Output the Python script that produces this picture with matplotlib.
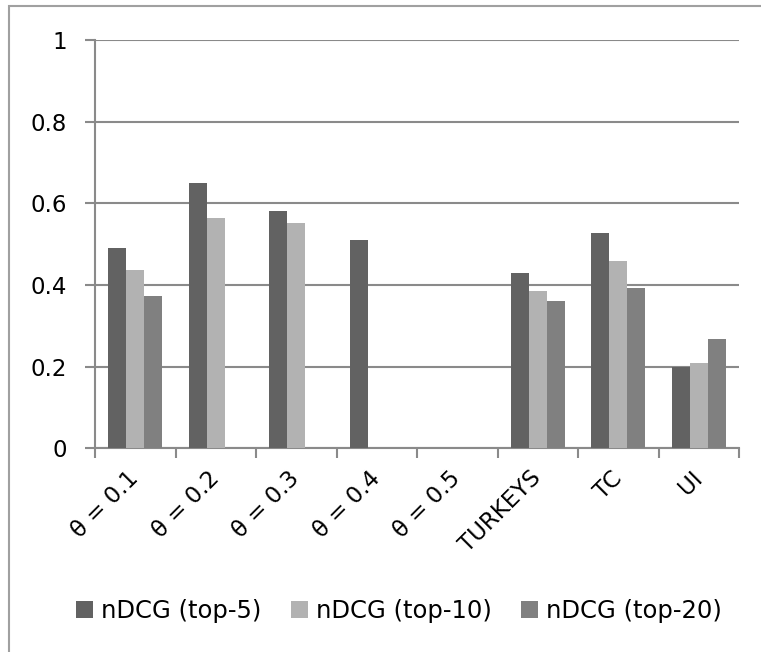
import matplotlib.pyplot as plt
import numpy as np
from matplotlib.patches import Rectangle

categories = ["θ = 0.1", "θ = 0.2", "θ = 0.3", "θ = 0.4", "θ = 0.5",
              "TURKEYS", "TC", "UI"]
series_names = ["nDCG (top-5)", "nDCG (top-10)", "nDCG (top-20)"]
top5 = [0.49, 0.65, 0.58, 0.51, None, 0.43, 0.527, 0.20]
top10 = [0.437, 0.564, 0.553, None, None, 0.386, 0.459, 0.209]
top20 = [0.372, None, None, None, None, 0.361, 0.393, 0.268]
y_ticks = [0, 0.2, 0.4, 0.6, 0.8, 1]
y_labels = ["0", "0.2", "0.4", "0.6", "0.8", "1"]

colors = ["#626262", "#b2b2b2", "#808080"]
axis_gray = "#8a8a8a"

plt.rcParams["font.family"] = ["DejaVu Sans"]
FS = 16.5

W, H = 761, 652
fig = plt.figure(figsize=(W / 100, H / 100), dpi=100)
ax = fig.add_axes([95 / W, 1 - 448.3 / H, (739 - 95) / W, (448.3 - 40) / H])

# outer chart-area border (only left and top visible in the crop)
fig.patches.append(Rectangle((9 / W, -0.1), 1.2, 1.1 - 6 / H,
                             transform=fig.transFigure, fill=False,
                             edgecolor="#a0a0a0", linewidth=1.5))

n = len(series_names)
width = 1 / (n + 1.5)
x = np.arange(len(categories))
for i, (vals, col, name) in enumerate(zip([top5, top10, top20], colors, series_names)):
    xs = [xi for xi, v in zip(x, vals) if v is not None]
    hs = [v for v in vals if v is not None]
    offs = (i - (n - 1) / 2) * width
    ax.bar(np.array(xs) + offs, hs, width=width, color=col, label=name,
           linewidth=0, zorder=3)

ax.set_xlim(-0.5, len(categories) - 0.5)
ax.set_ylim(0, 1)
ax.set_yticks(y_ticks)
ax.set_yticklabels(y_labels, fontsize=FS)
ax.yaxis.grid(True, color=axis_gray, linewidth=1.5, zorder=0)
ax.set_axisbelow(True)

ax.set_xticks(x)
ax.set_xticklabels(categories, fontsize=FS, rotation=45, ha="right",
                   va="center", rotation_mode="anchor")
ax.tick_params(axis="x", length=0, pad=19)
ax.set_xticks(np.arange(len(categories) + 1) - 0.5, minor=True)
ax.tick_params(axis="x", which="minor", length=7, width=1.5, color=axis_gray)
ax.tick_params(axis="y", length=7, width=1.5, color=axis_gray, pad=13)

for side in ["top", "right"]:
    ax.spines[side].set_visible(False)
for side in ["left", "bottom"]:
    ax.spines[side].set_color(axis_gray)
    ax.spines[side].set_linewidth(1.5)

fig.legend(loc="center left", bbox_to_anchor=(76 / W, 1 - 611 / H),
           ncol=3, frameon=False, fontsize=17.5, handlelength=0.7,
           handleheight=0.7, handletextpad=0.33, columnspacing=1.2,
           borderpad=0, borderaxespad=0)

fig.savefig("out.png", dpi=100)
